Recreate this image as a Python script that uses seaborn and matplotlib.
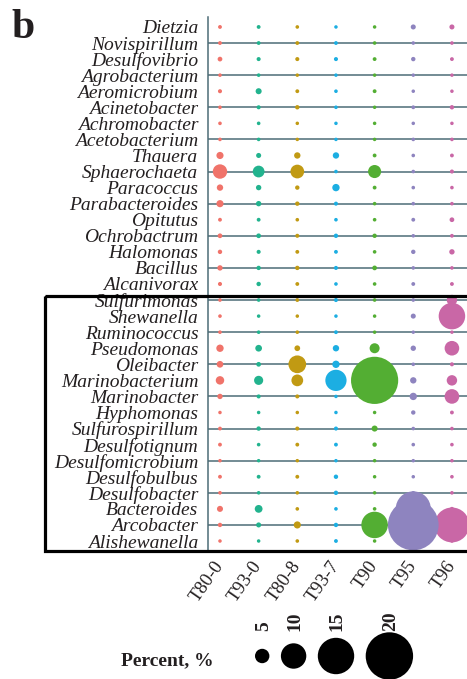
import numpy as np
import pandas as pd
import matplotlib
matplotlib.use("Agg")
import matplotlib.pyplot as plt
import seaborn as sns
from matplotlib.patches import Rectangle

# ---- data: relative abundance (%) of each genus per sample ----
genera = [
    "Dietzia", "Novispirillum", "Desulfovibrio", "Agrobacterium", "Aeromicrobium",
    "Acinetobacter", "Achromobacter", "Acetobacterium", "Thauera", "Sphaerochaeta",
    "Paracoccus", "Parabacteroides", "Opitutus", "Ochrobactrum", "Halomonas",
    "Bacillus", "Alcanivorax", "Sulfurimonas", "Shewanella", "Ruminococcus",
    "Pseudomonas", "Oleibacter", "Marinobacterium", "Marinobacter", "Hyphomonas",
    "Sulfurospirillum", "Desulfotignum", "Desulfomicrobium", "Desulfobulbus",
    "Desulfobacter", "Bacteroides", "Arcobacter", "Alishewanella",
]
samples = ["T80-0", "T93-0", "T80-8", "T93-7", "T90", "T95", "T96"]

t80_0 = [0.2, 0.2, 0.6, 0.1, 0.3, 0.1, 0.1, 0.1, 1.7, 5.0, 1.35, 1.7, 0.2, 0.6, 0.45,
         0.9, 0.3, 0.1, 0.1, 0.1, 1.8, 1.5, 2.3, 0.9, 0.05, 0.2, 0.2, 0.05, 0.2,
         0.1, 1.2, 0.45, 0.05]
t93_0 = [0.2, 0.2, 0.3, 0.1, 1.2, 0.3, 0.1, 0.1, 0.75, 3.8, 0.9, 0.9, 0.2, 0.6, 0.3,
         0.45, 0.45, 0.1, 0.05, 0.1, 1.5, 0.6, 2.6, 0.3, 0.05, 0.45, 0.1, 0.05, 0.2,
         0.1, 2.0, 0.75, 0.05]
t80_8 = [0.1, 0.2, 0.3, 0.05, 0.2, 0.45, 0.05, 0.05, 1.35, 4.7, 0.45, 0.45, 0.1, 0.3, 0.2,
         0.45, 0.2, 0.2, 0.05, 0.1, 1.05, 6.5, 3.8, 0.3, 0.05, 0.3, 0.2, 0.05, 0.2,
         0.1, 0.1, 1.7, 0.1]
t93_7 = [0.05, 0.2, 0.3, 0.05, 0.1, 0.1, 0.05, 0.05, 1.35, 0.1, 1.8, 0.3, 0.1, 0.45, 0.2,
         0.3, 0.1, 0.3, 0.05, 0.2, 1.35, 1.8, 8.1, 0.05, 0.05, 0.3, 0.2, 0.05, 0.45,
         0.45, 0.1, 0.45, 0.2]
t90 = [0.05, 0.1, 0.2, 0.05, 0.2, 0.05, 0.05, 0.05, 0.2, 4.4, 0.2, 0.1, 0.1, 0.45, 0.1,
       0.6, 0.1, 0.1, 0.05, 0.05, 3.0, 0.3, 19.9, 0.3, 0.05, 1.2, 0.45, 0.05, 0.05,
       0.05, 0.1, 10.5, 0.05]
t95 = [0.75, 0.1, 0.45, 0.05, 0.05, 0.2, 0.05, 0.1, 0.1, 0.1, 0.1, 0.1, 0.2, 0.1, 0.45,
       0.1, 0.2, 0.1, 0.75, 0.05, 0.9, 0.1, 1.35, 1.8, 0.45, 0.1, 0.1, 0.05, 0.05,
       0.1, 14.4, 21.5, 0.1]
t96 = [0.75, 0.1, 0.2, 0.05, 0.05, 0.45, 0.05, 0.1, 0.2, 0.3, 0.1, 0.1, 0.6, 0.2, 0.9,
       0.1, 0.2, 3.2, 10.5, 0.05, 5.1, 0.3, 3.2, 5.1, 0.2, 0.1, 0.1, 0.05, 0.1,
       0.1, 0.3, 14.3, 0.1]

legend_breaks = [5, 10, 15, 20]

sample_colors = ["#F0736A", "#22B38E", "#C19A13", "#1CAEE2", "#53AE33", "#8E84BF", "#C967A6"]

# ---- geometry helpers ----
DPI = 100
W, H = 467, 679
SLATE = "#4d6c76"
INK = "#231f20"


def marker_area(pct):
    """Marker area (pt^2) with a diameter that grows linearly with percent."""
    d_px = 3.4 + 2.2 * np.asarray(pct, dtype=float)
    return (d_px * 72.0 / DPI) ** 2


def px_box(x0, y0, x1, y1):
    return [x0 / W, 1 - y1 / H, (x1 - x0) / W, (y1 - y0) / H]


# ---- long table ----
wide = pd.DataFrame({"Genus": genera, "T80-0": t80_0, "T93-0": t93_0, "T80-8": t80_8,
                     "T93-7": t93_7, "T90": t90, "T95": t95, "T96": t96})
df = wide.melt(id_vars="Genus", var_name="Sample", value_name="Percent")
df["Genus"] = pd.Categorical(df["Genus"], categories=genera, ordered=True)
df["Sample"] = pd.Categorical(df["Sample"], categories=samples, ordered=True)
# big bubbles drawn last so small ones stay visible
df = df.sort_values("Percent", kind="stable").reset_index(drop=True)

size_lookup = {v: float(marker_area(v)) for v in df["Percent"].unique()}
palette = dict(zip(samples, sample_colors))

sns.set_theme(style="white")
plt.rcParams["font.family"] = ["Liberation Serif", "DejaVu Serif"]

fig = plt.figure(figsize=(W / DPI, H / DPI), dpi=DPI)
ax = fig.add_axes(px_box(208, 17, 467, 550))

# alternating horizontal guide lines
for i in range(1, len(genera), 2):
    ax.axhline(i, color=SLATE, lw=1.1, zorder=1)

sns.scatterplot(data=df, x="Sample", y="Genus", hue="Sample", palette=palette,
                size="Percent", sizes=size_lookup, linewidth=0, alpha=1,
                legend=False, ax=ax, zorder=3)

ax.set_xlim(-0.31, 6.39)
ax.set_ylim(len(genera) - 1 + 0.56, -0.62)
ax.set_xlabel("")
ax.set_ylabel("")

for side in ["top", "right", "bottom"]:
    ax.spines[side].set_visible(False)
ax.spines["left"].set_color(SLATE)
ax.spines["left"].set_linewidth(1.1)

ax.set_yticks(range(len(genera)), labels=genera)
ax.tick_params(axis="y", length=5, width=1.0, color=SLATE, pad=2,
               labelsize=14, labelcolor=INK)
for lbl in ax.get_yticklabels():
    lbl.set_fontstyle("italic")

ax.set_xticks(range(len(samples)), labels=samples)
ax.tick_params(axis="x", which="major", length=5, width=1.0, color=SLATE, pad=4,
               labelsize=13.5, labelcolor=INK)
for lbl in ax.get_xticklabels():
    lbl.set_rotation(55)
    lbl.set_rotation_mode("anchor")
    lbl.set_ha("right")
    lbl.set_va("center")
for i, tk in enumerate(ax.xaxis.get_major_ticks()):
    if i % 2 == 0:
        tk.tick1line.set_visible(False)

# tiny marks along the top edge
ax.set_xticks(range(len(samples)), minor=True)
ax.tick_params(axis="x", which="minor", bottom=False, top=True, length=1.2,
               width=1.0, color="#333333")

# ---- overlay in pixel coordinates: box, size legend, panel letter ----
ov = fig.add_axes([0, 0, 1, 1], zorder=5)
ov.patch.set_visible(False)

widths = 3.4 + 2.2 * np.array(legend_breaks, dtype=float)
gap = 11.5
lefts = 255.0 + np.concatenate([[0.0], np.cumsum(widths[:-1] + gap)])
centers = lefts + widths / 2.0
leg_y = [656.0] * len(legend_breaks)
sns.scatterplot(x=centers, y=leg_y, size=legend_breaks,
                sizes={b: float(marker_area(b)) for b in legend_breaks},
                color="black", linewidth=0, legend=False, ax=ov)
for c, b in zip(centers, legend_breaks):
    ov.text(c + 1, 631, str(b), rotation=90, ha="center", va="bottom",
            fontsize=14, fontweight="bold", color=INK)
ov.text(121, 665, "Percent, %", ha="left", va="baseline", fontsize=14,
        fontweight="bold", color=INK)
ov.text(11, 38, "b", ha="left", va="baseline", fontsize=30, fontweight="bold",
        color=INK)

ov.add_patch(Rectangle((44.5, 295.5), 440, 255, fill=False, lw=2.3,
                       ec="black", clip_on=False))

ov.set_xlim(0, W)
ov.set_ylim(H, 0)
ov.axis("off")

fig.savefig("out.png", dpi=DPI)
